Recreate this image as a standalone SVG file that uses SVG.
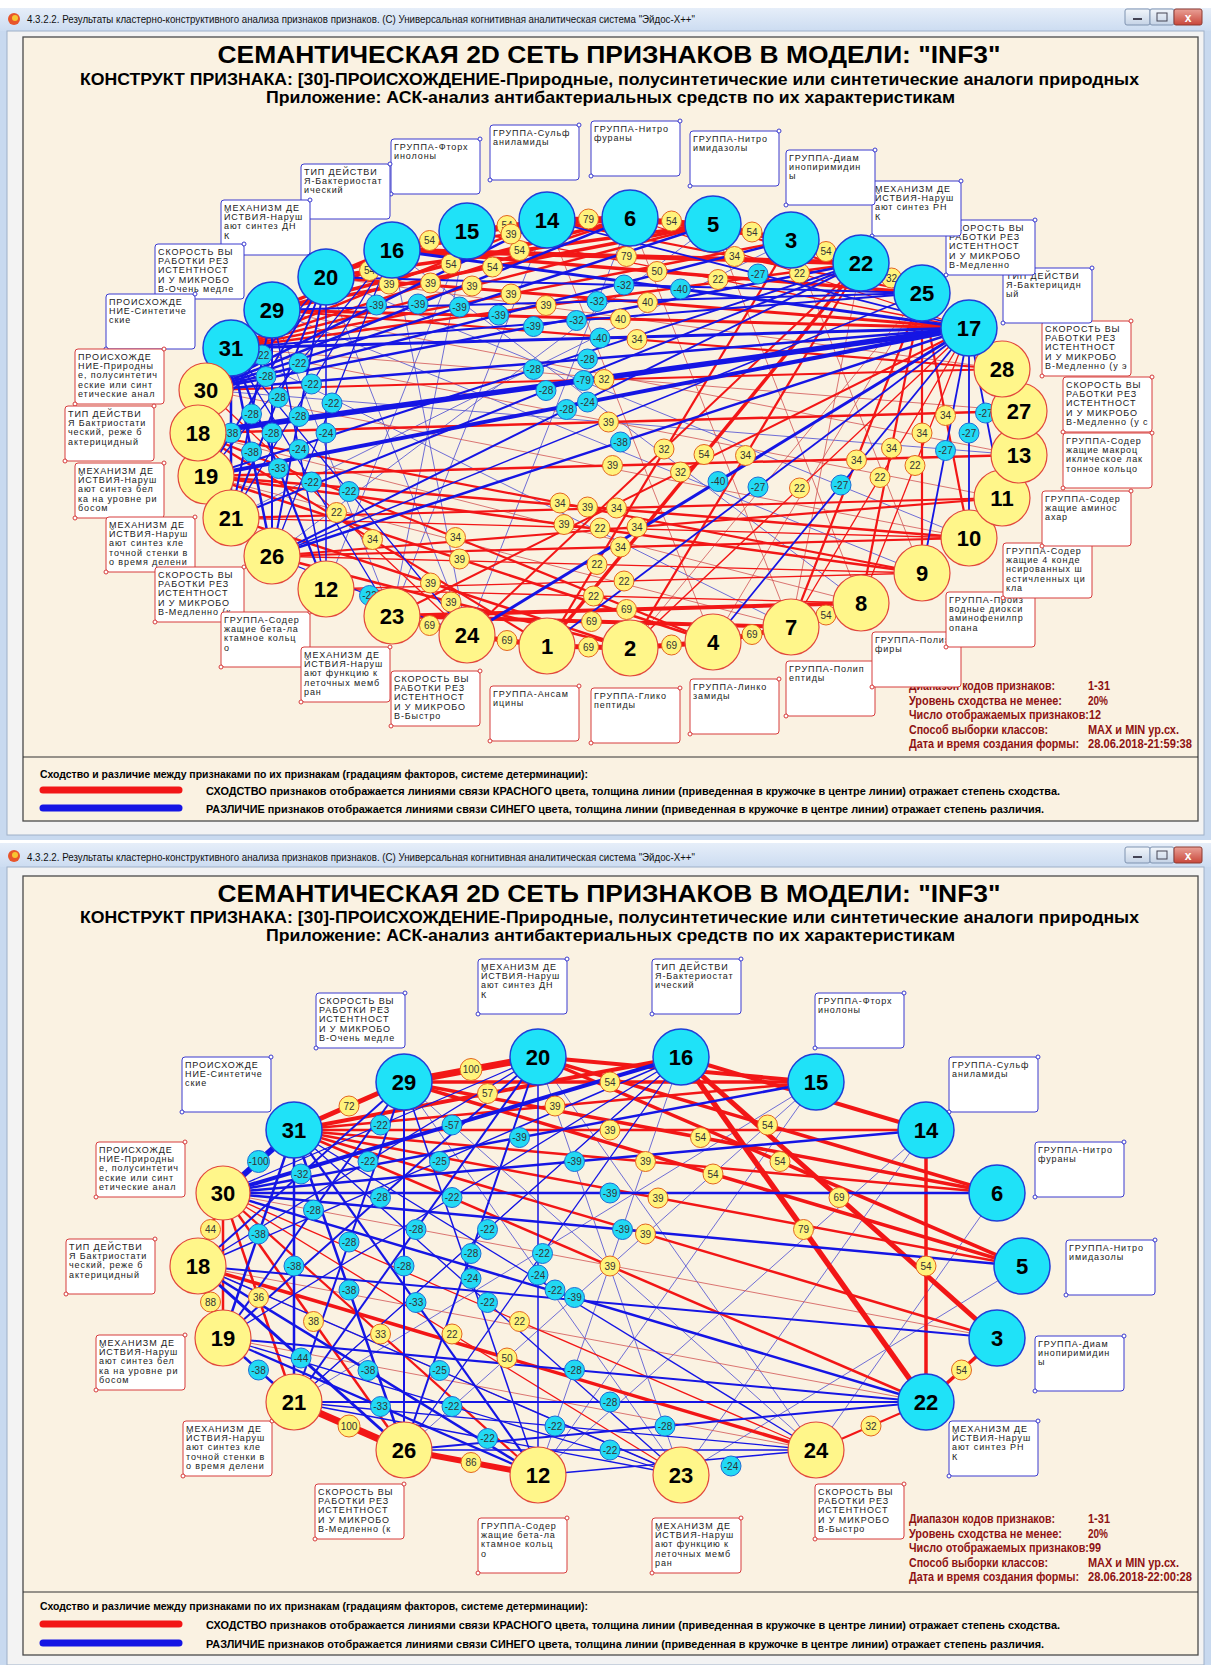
<svg xmlns="http://www.w3.org/2000/svg" width="1211" height="1665" viewBox="0 0 1211 1665">
<defs>
<linearGradient id="tbg" x1="0" y1="0" x2="0" y2="1"><stop offset="0" stop-color="#E6EEF9"/><stop offset="1" stop-color="#CCDCF1"/></linearGradient>
<linearGradient id="cls" x1="0" y1="0" x2="0" y2="1"><stop offset="0" stop-color="#E9A197"/><stop offset="1" stop-color="#C9473A"/></linearGradient>
<linearGradient id="btn" x1="0" y1="0" x2="0" y2="1"><stop offset="0" stop-color="#F2F6FB"/><stop offset="1" stop-color="#C5D3E6"/></linearGradient>
<style>
.win{fill:#C8D9EF}
.cli{fill:#F3F3F3;stroke:#9EB0C8;stroke-width:1}
.pan{fill:#FAF2E2;stroke:#4A4A4A;stroke-width:1.3}
.sep{stroke:#333;stroke-width:1.2}
.wtt{font-family:'Liberation Sans',Arial,sans-serif;font-size:11px;fill:#111}
.h1{font-family:'Liberation Sans',Arial,sans-serif;font-weight:bold;font-size:24px;fill:#000;text-anchor:middle}
.h2{font-family:'Liberation Sans',Arial,sans-serif;font-weight:bold;font-size:17px;fill:#000}
.st{font-family:'Liberation Sans Narrow','Liberation Sans',Arial,sans-serif;font-weight:bold;font-size:12px;fill:#8E1212}
.lg{font-family:'Liberation Sans Narrow','Liberation Sans',Arial,sans-serif;font-weight:bold;font-size:11.5px;fill:#000}
.r{stroke:#F21616;fill:none}
.b{stroke:#1515E4;fill:none}
.rt{stroke:#D25454;stroke-width:0.8}
.bt{stroke:#4B4BD2;stroke-width:0.8}
.by circle{fill:#FFF37C;stroke:#E4651E;stroke-width:1}
.bc circle{fill:#22D9F3;stroke:#1C6ED6;stroke-width:1}
.by text,.bc text{font-family:'Liberation Sans',Arial,sans-serif;font-size:10px;fill:#333;text-anchor:middle}
.nc{fill:#1FE2F8;stroke:#1F3FD8;stroke-width:1.5}
.ny{fill:#FFF68A;stroke:#E2483C;stroke-width:1.2}
.nn{font-family:'Liberation Sans',Arial,sans-serif;font-weight:bold;font-size:22px;fill:#000;text-anchor:middle}
.xb{fill:#fff;stroke:#3B3BCF;stroke-width:1}
.xr{fill:#fff;stroke:#D63C3C;stroke-width:1}
.db{fill:#fff;stroke:#3B3BCF;stroke-width:1}
.dr{fill:#fff;stroke:#D63C3C;stroke-width:1}
.bl{font-family:'Liberation Sans',Arial,sans-serif;font-size:9px;fill:#222;letter-spacing:0.9px}
</style>
</defs>
<rect x="0" y="0" width="1211" height="1665" fill="#FFFFFF"/>

<!-- ================= WINDOW 1 ================= -->
<g id="window1">
<rect class="win" x="0" y="8" width="1211" height="832"/>
<rect x="0" y="8" width="1211" height="23" fill="url(#tbg)"/>
<circle cx="14" cy="19" r="6" fill="#E8552A"/><circle cx="15" cy="18" r="3" fill="#F7C531"/>
<text class="wtt" x="27" y="23" textLength="668" lengthAdjust="spacingAndGlyphs">4.3.2.2. Результаты кластерно-конструктивного анализа признаков признаков.  (C) Универсальная когнитивная аналитическая система "Эйдос-Х++"</text>
<rect x="1125" y="9" width="25" height="16" rx="2" fill="url(#btn)" stroke="#7F93B0"/><rect x="1133" y="18" width="9" height="2" fill="#445"/>
<rect x="1150" y="9" width="24" height="16" rx="2" fill="url(#btn)" stroke="#7F93B0"/><rect x="1157" y="13" width="10" height="8" fill="none" stroke="#445"/>
<rect x="1174" y="9" width="28" height="16" rx="2" fill="url(#cls)" stroke="#8E3A30"/><text x="1188" y="22" font-family="Liberation Sans,Arial,sans-serif" font-weight="bold" font-size="12" fill="#fff" text-anchor="middle">x</text>
<rect class="cli" x="7" y="31" width="1197" height="804"/>
<rect class="pan" x="23" y="37" width="1175" height="784"/>
<line class="sep" x1="23" y1="757" x2="1198" y2="757"/>
<text class="h1" x="609" y="63" textLength="783" lengthAdjust="spacingAndGlyphs">СЕМАНТИЧЕСКАЯ 2D СЕТЬ ПРИЗНАКОВ В МОДЕЛИ: "INF3"</text>
<text class="h2" x="80" y="85" textLength="1059" lengthAdjust="spacingAndGlyphs">КОНСТРУКТ ПРИЗНАКА: [30]-ПРОИСХОЖДЕНИЕ-Природные, полусинтетические или синтетические аналоги природных</text>
<text class="h2" x="266" y="103" textLength="689" lengthAdjust="spacingAndGlyphs">Приложение: АСК-анализ антибактериальных средств по их характеристикам</text>
<g id="a-stats">
<text class="st" x="909" y="690" textLength="146" lengthAdjust="spacingAndGlyphs">Диапазон кодов признаков:</text><text class="st" x="1088" y="690" textLength="22" lengthAdjust="spacingAndGlyphs">1-31</text>
<text class="st" x="909" y="704.5" textLength="153" lengthAdjust="spacingAndGlyphs">Уровень сходства не менее:</text><text class="st" x="1088" y="704.5" textLength="20" lengthAdjust="spacingAndGlyphs">20%</text>
<text class="st" x="909" y="719" textLength="192" lengthAdjust="spacingAndGlyphs">Число отображаемых признаков:12</text>
<text class="st" x="909" y="733.5" textLength="139" lengthAdjust="spacingAndGlyphs">Способ выборки классов:</text><text class="st" x="1088" y="733.5" textLength="91" lengthAdjust="spacingAndGlyphs">MAX и MIN ур.сх.</text>
<text class="st" x="909" y="748" textLength="170" lengthAdjust="spacingAndGlyphs">Дата и время создания формы:</text><text class="st" x="1088" y="748" textLength="104" lengthAdjust="spacingAndGlyphs">28.06.2018-21:59:38</text>
</g>
<g id="a-legend">
<text class="lg" x="40" y="778" textLength="548" lengthAdjust="spacingAndGlyphs">Сходство и различие между признаками по их признакам (градациям факторов, системе детерминации):</text>
<line x1="43" y1="790" x2="179" y2="790" stroke="#F21616" stroke-width="7" stroke-linecap="round"/>
<text class="lg" x="206" y="795" textLength="854" lengthAdjust="spacingAndGlyphs">СХОДСТВО признаков отображается линиями связи КРАСНОГО цвета, толщина линии (приведенная в кружочке в центре линии) отражает степень сходства.</text>
<line x1="43" y1="808" x2="179" y2="808" stroke="#1515E4" stroke-width="7" stroke-linecap="round"/>
<text class="lg" x="206" y="813" textLength="838" lengthAdjust="spacingAndGlyphs">РАЗЛИЧИЕ признаков отображается линиями связи СИНЕГО цвета, толщина линии  (приведенная в кружочке в центре линии) отражает степень различия.</text>
</g>
</g>

<!-- connectors window 1 -->
<g id="a-edges">
<g>
<line class="bt" x1="272" y1="310" x2="922" y2="573"/><line class="bt" x1="326" y1="277" x2="969" y2="538"/><line class="bt" x1="392" y1="250" x2="861" y2="603"/><line class="bt" x1="231" y1="348" x2="791" y2="627"/><line class="bt" x1="467" y1="231" x2="326" y2="589"/><line class="bt" x1="547" y1="220" x2="392" y2="616"/><line class="bt" x1="630" y1="218" x2="467" y2="635"/><line class="bt" x1="713" y1="224" x2="272" y2="556"/><line class="bt" x1="791" y1="240" x2="231" y2="518"/><line class="bt" x1="392" y1="250" x2="467" y2="635"/><line class="bt" x1="467" y1="231" x2="392" y2="616"/><line class="bt" x1="272" y1="310" x2="392" y2="616"/><line class="bt" x1="326" y1="277" x2="467" y2="635"/><line class="bt" x1="206" y1="390" x2="1019" y2="455"/>
<line class="rt" x1="206" y1="390" x2="969" y2="538"/><line class="rt" x1="198" y1="433" x2="861" y2="603"/><line class="rt" x1="206" y1="476" x2="791" y2="627"/><line class="rt" x1="231" y1="348" x2="1002" y2="498"/><line class="rt" x1="272" y1="310" x2="1019" y2="455"/><line class="rt" x1="231" y1="348" x2="1019" y2="411"/><line class="rt" x1="326" y1="277" x2="1002" y2="369"/><line class="rt" x1="791" y1="240" x2="922" y2="573"/><line class="rt" x1="713" y1="224" x2="861" y2="603"/><line class="rt" x1="630" y1="218" x2="791" y2="627"/><line class="rt" x1="547" y1="220" x2="713" y2="642"/><line class="rt" x1="922" y1="293" x2="713" y2="642"/><line class="rt" x1="922" y1="293" x2="630" y2="648"/><line class="rt" x1="861" y1="263" x2="791" y2="627"/>
</g>
<g>
<line class="r" stroke-width="3.5" x1="392" y1="250" x2="467" y2="231"/>
<line class="r" stroke-width="3.5" x1="467" y1="231" x2="547" y2="220"/>
<line class="r" stroke-width="5" x1="547" y1="220" x2="630" y2="218"/>
<line class="r" stroke-width="3.5" x1="630" y1="218" x2="713" y2="224"/>
<line class="r" stroke-width="3.5" x1="713" y1="224" x2="791" y2="240"/>
<line class="r" stroke-width="3.5" x1="791" y1="240" x2="861" y2="263"/>
<line class="r" stroke-width="2" x1="861" y1="263" x2="922" y2="293"/>
<line class="r" stroke-width="3.5" x1="326" y1="277" x2="392" y2="250"/>
<line class="r" stroke-width="3.5" x1="272" y1="310" x2="467" y2="231"/>
<line class="r" stroke-width="3.5" x1="272" y1="310" x2="630" y2="218"/>
<line class="r" stroke-width="3.5" x1="272" y1="310" x2="713" y2="224"/>
<line class="r" stroke-width="3.5" x1="326" y1="277" x2="713" y2="224"/>
<line class="r" stroke-width="2.5" x1="231" y1="348" x2="547" y2="220"/>
<line class="r" stroke-width="2.5" x1="231" y1="348" x2="630" y2="218"/>
<line class="r" stroke-width="2.5" x1="231" y1="348" x2="713" y2="224"/>
<line class="r" stroke-width="2.5" x1="231" y1="348" x2="791" y2="240"/>
<line class="r" stroke-width="2.5" x1="231" y1="348" x2="861" y2="263"/>
<line class="r" stroke-width="5" x1="392" y1="250" x2="861" y2="263"/>
<line class="r" stroke-width="3.5" x1="392" y1="250" x2="922" y2="293"/>
<line class="r" stroke-width="3" x1="326" y1="277" x2="969" y2="328"/>
<line class="r" stroke-width="3" x1="272" y1="310" x2="969" y2="328"/>
<line class="r" stroke-width="1.3" x1="467" y1="231" x2="969" y2="328"/>
<line class="r" stroke-width="2.2" x1="547" y1="220" x2="922" y2="293"/>
<line class="r" stroke-width="1.3" x1="630" y1="218" x2="969" y2="328"/>
<line class="r" stroke-width="2.2" x1="713" y1="224" x2="922" y2="293"/>
<line class="r" stroke-width="3.5" x1="392" y1="250" x2="547" y2="220"/>
<line class="r" stroke-width="3.5" x1="467" y1="231" x2="630" y2="218"/>
<line class="r" stroke-width="3.5" x1="547" y1="220" x2="713" y2="224"/>
<line class="r" stroke-width="3.5" x1="630" y1="218" x2="791" y2="240"/>
<line class="r" stroke-width="2.2" x1="713" y1="224" x2="861" y2="263"/>
<line class="r" stroke-width="1.3" x1="791" y1="240" x2="922" y2="293"/>
<line class="r" stroke-width="2.5" x1="326" y1="277" x2="467" y2="231"/>
<line class="r" stroke-width="2.5" x1="392" y1="250" x2="630" y2="218"/>
<line class="r" stroke-width="2.2" x1="198" y1="433" x2="547" y2="646"/>
<line class="r" stroke-width="1.3" x1="206" y1="390" x2="467" y2="635"/>
<line class="r" stroke-width="2.2" x1="198" y1="433" x2="713" y2="642"/>
<line class="r" stroke-width="2.5" x1="206" y1="476" x2="713" y2="642"/>
<line class="r" stroke-width="2.5" x1="231" y1="518" x2="630" y2="648"/>
<line class="r" stroke-width="2.5" x1="272" y1="556" x2="630" y2="648"/>
<line class="r" stroke-width="2.2" x1="198" y1="433" x2="922" y2="573"/>
<line class="r" stroke-width="2.5" x1="206" y1="476" x2="969" y2="538"/>
<line class="r" stroke-width="2.5" x1="206" y1="476" x2="922" y2="573"/>
<line class="r" stroke-width="5" x1="467" y1="635" x2="547" y2="646"/>
<line class="r" stroke-width="4" x1="392" y1="616" x2="791" y2="627"/>
<line class="r" stroke-width="5" x1="547" y1="646" x2="630" y2="648"/>
<line class="r" stroke-width="4" x1="392" y1="616" x2="861" y2="603"/>
<line class="r" stroke-width="5" x1="630" y1="648" x2="713" y2="642"/>
<line class="r" stroke-width="5" x1="713" y1="642" x2="791" y2="627"/>
<line class="r" stroke-width="3.5" x1="791" y1="627" x2="861" y2="603"/>
<line class="r" stroke-width="5" x1="392" y1="616" x2="467" y2="635"/>
<line class="r" stroke-width="2.2" x1="922" y1="293" x2="969" y2="538"/>
<line class="r" stroke-width="2.2" x1="922" y1="293" x2="922" y2="573"/>
<line class="r" stroke-width="2.2" x1="922" y1="293" x2="861" y2="603"/>
<line class="r" stroke-width="1.3" x1="969" y1="328" x2="861" y2="603"/>
<line class="r" stroke-width="2.2" x1="922" y1="293" x2="791" y2="627"/>
<line class="r" stroke-width="1.3" x1="969" y1="328" x2="791" y2="627"/>
<line class="r" stroke-width="1.3" x1="969" y1="328" x2="630" y2="648"/>
<line class="r" stroke-width="3.5" x1="861" y1="263" x2="547" y2="646"/>
<line class="r" stroke-width="2" x1="969" y1="328" x2="392" y2="616"/>
<line class="r" stroke-width="2" x1="861" y1="263" x2="467" y2="635"/>
<line class="r" stroke-width="2" x1="206" y1="390" x2="1002" y2="369"/>
<line class="r" stroke-width="2.5" x1="198" y1="433" x2="1019" y2="411"/>
<line class="r" stroke-width="2.5" x1="206" y1="476" x2="1019" y2="455"/>
<line class="r" stroke-width="2.2" x1="231" y1="518" x2="1002" y2="498"/>
<line class="r" stroke-width="2.2" x1="272" y1="556" x2="969" y2="538"/>
<line class="r" stroke-width="1.3" x1="326" y1="589" x2="922" y2="573"/>
<line class="r" stroke-width="2.2" x1="969" y1="328" x2="1002" y2="369"/>
<line class="r" stroke-width="2.2" x1="969" y1="328" x2="1019" y2="411"/>
<line class="r" stroke-width="2.2" x1="969" y1="328" x2="1019" y2="455"/>
<line class="r" stroke-width="2.2" x1="861" y1="263" x2="630" y2="648"/>
<line class="r" stroke-width="2.2" x1="791" y1="240" x2="547" y2="646"/>
<line class="r" stroke-width="2.2" x1="272" y1="310" x2="1002" y2="369"/>
<line class="r" stroke-width="1.3" x1="231" y1="518" x2="969" y2="538"/>
<line class="r" stroke-width="1.3" x1="272" y1="556" x2="922" y2="573"/>
<line class="r" stroke-width="1.3" x1="326" y1="589" x2="861" y2="603"/>
<line class="r" stroke-width="2.2" x1="272" y1="556" x2="1002" y2="498"/>
</g>
<g>
<line class="b" stroke-width="2.5" x1="206" y1="390" x2="547" y2="220"/>
<line class="b" stroke-width="2.5" x1="206" y1="390" x2="630" y2="218"/>
<line class="b" stroke-width="2.5" x1="206" y1="390" x2="713" y2="224"/>
<line class="b" stroke-width="2.5" x1="206" y1="390" x2="791" y2="240"/>
<line class="b" stroke-width="2.5" x1="206" y1="390" x2="861" y2="263"/>
<line class="b" stroke-width="2" x1="326" y1="277" x2="922" y2="293"/>
<line class="b" stroke-width="3" x1="392" y1="250" x2="969" y2="328"/>
<line class="b" stroke-width="1.8" x1="547" y1="220" x2="969" y2="328"/>
<line class="b" stroke-width="2" x1="206" y1="476" x2="861" y2="263"/>
<line class="b" stroke-width="2" x1="231" y1="518" x2="861" y2="263"/>
<line class="b" stroke-width="5.5" x1="198" y1="433" x2="969" y2="328"/>
<line class="b" stroke-width="2" x1="272" y1="556" x2="861" y2="263"/>
<line class="b" stroke-width="1.5" x1="272" y1="556" x2="922" y2="293"/>
<line class="b" stroke-width="1.3" x1="326" y1="277" x2="198" y2="433"/>
<line class="b" stroke-width="1.3" x1="392" y1="250" x2="206" y2="476"/>
<line class="b" stroke-width="1.3" x1="392" y1="250" x2="231" y2="518"/>
<line class="b" stroke-width="1.3" x1="392" y1="250" x2="272" y2="556"/>
<line class="b" stroke-width="1.5" x1="326" y1="277" x2="326" y2="589"/>
<line class="b" stroke-width="2" x1="326" y1="277" x2="206" y2="476"/>
<line class="b" stroke-width="2" x1="326" y1="277" x2="231" y2="518"/>
<line class="b" stroke-width="2" x1="272" y1="310" x2="231" y2="518"/>
<line class="b" stroke-width="2" x1="326" y1="277" x2="272" y2="556"/>
<line class="b" stroke-width="2" x1="272" y1="310" x2="272" y2="556"/>
<line class="b" stroke-width="2.5" x1="231" y1="348" x2="231" y2="518"/>
<line class="b" stroke-width="2.5" x1="231" y1="348" x2="272" y2="556"/>
<line class="b" stroke-width="1.5" x1="272" y1="310" x2="326" y2="589"/>
<line class="b" stroke-width="2.2" x1="231" y1="348" x2="326" y2="589"/>
<line class="b" stroke-width="1.3" x1="231" y1="348" x2="392" y2="616"/>
<line class="b" stroke-width="1.3" x1="231" y1="348" x2="467" y2="635"/>
<line class="b" stroke-width="1.3" x1="272" y1="556" x2="467" y2="635"/>
<line class="b" stroke-width="1.8" x1="969" y1="328" x2="1002" y2="498"/>
<line class="b" stroke-width="1.8" x1="969" y1="328" x2="969" y2="538"/>
<line class="b" stroke-width="1.8" x1="969" y1="328" x2="922" y2="573"/>
<line class="b" stroke-width="1.8" x1="969" y1="328" x2="713" y2="642"/>
<line class="b" stroke-width="1.8" x1="969" y1="328" x2="547" y2="646"/>
<line class="b" stroke-width="3" x1="969" y1="328" x2="467" y2="635"/>
<line class="b" stroke-width="2.5" x1="969" y1="328" x2="272" y2="556"/>
<line class="b" stroke-width="3" x1="231" y1="348" x2="969" y2="328"/>
<line class="b" stroke-width="2" x1="272" y1="310" x2="922" y2="293"/>
<line class="b" stroke-width="4" x1="206" y1="476" x2="969" y2="328"/>
<line class="b" stroke-width="2" x1="231" y1="348" x2="922" y2="293"/>
<line class="b" stroke-width="2.5" x1="206" y1="390" x2="969" y2="328"/>
</g>
<g>
<g class="by" transform="translate(429.5 240.5)"><circle r="10"/><text y="3.5">54</text></g>
<g class="by" transform="translate(507 225.5)"><circle r="10"/><text y="3.5">54</text></g>
<g class="by" transform="translate(588.5 219)"><circle r="10"/><text y="3.5">79</text></g>
<g class="by" transform="translate(671.5 221)"><circle r="10"/><text y="3.5">54</text></g>
<g class="by" transform="translate(752 232)"><circle r="10"/><text y="3.5">54</text></g>
<g class="by" transform="translate(826 251.5)"><circle r="10"/><text y="3.5">54</text></g>
<g class="by" transform="translate(891.5 278)"><circle r="10"/><text y="3.5">32</text></g>
<g class="by" transform="translate(369.5 270.5)"><circle r="10"/><text y="3.5">54</text></g>
<g class="by" transform="translate(451 264)"><circle r="10"/><text y="3.5">54</text></g>
<g class="by" transform="translate(492.5 267)"><circle r="10"/><text y="3.5">54</text></g>
<g class="by" transform="translate(519.5 250.5)"><circle r="10"/><text y="3.5">54</text></g>
<g class="by" transform="translate(511 234)"><circle r="10"/><text y="3.5">39</text></g>
<g class="by" transform="translate(389 284)"><circle r="10"/><text y="3.5">39</text></g>
<g class="by" transform="translate(430.5 283)"><circle r="10"/><text y="3.5">39</text></g>
<g class="by" transform="translate(472 286)"><circle r="10"/><text y="3.5">39</text></g>
<g class="by" transform="translate(511 294)"><circle r="10"/><text y="3.5">39</text></g>
<g class="by" transform="translate(546 305.5)"><circle r="10"/><text y="3.5">39</text></g>
<g class="by" transform="translate(626.5 256.5)"><circle r="10"/><text y="3.5">79</text></g>
<g class="by" transform="translate(657 271.5)"><circle r="10"/><text y="3.5">50</text></g>
<g class="by" transform="translate(647.5 302.5)"><circle r="10"/><text y="3.5">40</text></g>
<g class="by" transform="translate(620.5 319)"><circle r="10"/><text y="3.5">40</text></g>
<g class="by" transform="translate(718 279.5)"><circle r="10"/><text y="3.5">22</text></g>
<g class="by" transform="translate(734.5 256.5)"><circle r="10"/><text y="3.5">34</text></g>
<g class="by" transform="translate(799.5 273)"><circle r="10"/><text y="3.5">22</text></g>
<g class="by" transform="translate(637 339.5)"><circle r="10"/><text y="3.5">34</text></g>
<g class="by" transform="translate(604 379.5)"><circle r="10"/><text y="3.5">32</text></g>
<g class="by" transform="translate(608.5 422)"><circle r="10"/><text y="3.5">39</text></g>
<g class="by" transform="translate(612.5 465.5)"><circle r="10"/><text y="3.5">39</text></g>
<g class="by" transform="translate(616.5 508)"><circle r="10"/><text y="3.5">34</text></g>
<g class="by" transform="translate(620.5 547)"><circle r="10"/><text y="3.5">34</text></g>
<g class="by" transform="translate(624 581)"><circle r="10"/><text y="3.5">22</text></g>
<g class="by" transform="translate(372.5 539.5)"><circle r="10"/><text y="3.5">34</text></g>
<g class="by" transform="translate(336.5 512.5)"><circle r="10"/><text y="3.5">22</text></g>
<g class="by" transform="translate(455.5 537.5)"><circle r="10"/><text y="3.5">34</text></g>
<g class="by" transform="translate(459.5 559)"><circle r="10"/><text y="3.5">39</text></g>
<g class="by" transform="translate(430.5 583)"><circle r="10"/><text y="3.5">39</text></g>
<g class="by" transform="translate(451 602)"><circle r="10"/><text y="3.5">39</text></g>
<g class="by" transform="translate(560 503)"><circle r="10"/><text y="3.5">34</text></g>
<g class="by" transform="translate(587.5 507)"><circle r="10"/><text y="3.5">39</text></g>
<g class="by" transform="translate(564 524.5)"><circle r="10"/><text y="3.5">39</text></g>
<g class="by" transform="translate(600 528)"><circle r="10"/><text y="3.5">22</text></g>
<g class="by" transform="translate(597 564.5)"><circle r="10"/><text y="3.5">22</text></g>
<g class="by" transform="translate(593.5 596)"><circle r="10"/><text y="3.5">22</text></g>
<g class="by" transform="translate(637 527)"><circle r="10"/><text y="3.5">34</text></g>
<g class="by" transform="translate(507 640.5)"><circle r="10"/><text y="3.5">69</text></g>
<g class="by" transform="translate(591.5 621.5)"><circle r="10"/><text y="3.5">69</text></g>
<g class="by" transform="translate(588.5 647)"><circle r="10"/><text y="3.5">69</text></g>
<g class="by" transform="translate(626.5 609.5)"><circle r="10"/><text y="3.5">69</text></g>
<g class="by" transform="translate(671.5 645)"><circle r="10"/><text y="3.5">69</text></g>
<g class="by" transform="translate(752 634.5)"><circle r="10"/><text y="3.5">69</text></g>
<g class="by" transform="translate(826 615)"><circle r="10"/><text y="3.5">54</text></g>
<g class="by" transform="translate(429.5 625.5)"><circle r="10"/><text y="3.5">69</text></g>
<g class="by" transform="translate(945.5 415.5)"><circle r="10"/><text y="3.5">34</text></g>
<g class="by" transform="translate(922 433)"><circle r="10"/><text y="3.5">34</text></g>
<g class="by" transform="translate(891.5 448)"><circle r="10"/><text y="3.5">34</text></g>
<g class="by" transform="translate(915 465.5)"><circle r="10"/><text y="3.5">22</text></g>
<g class="by" transform="translate(856.5 460)"><circle r="10"/><text y="3.5">34</text></g>
<g class="by" transform="translate(880 477.5)"><circle r="10"/><text y="3.5">22</text></g>
<g class="by" transform="translate(799.5 488)"><circle r="10"/><text y="3.5">22</text></g>
<g class="by" transform="translate(704 454.5)"><circle r="10"/><text y="3.5">54</text></g>
<g class="by" transform="translate(680.5 472)"><circle r="10"/><text y="3.5">32</text></g>
<g class="by" transform="translate(664 449)"><circle r="10"/><text y="3.5">32</text></g>
<g class="by" transform="translate(745.5 455.5)"><circle r="10"/><text y="3.5">34</text></g>
<g class="bc" transform="translate(376.5 305)"><circle r="10"/><text y="3.5">-39</text></g>
<g class="bc" transform="translate(418 304)"><circle r="10"/><text y="3.5">-39</text></g>
<g class="bc" transform="translate(459.5 307)"><circle r="10"/><text y="3.5">-39</text></g>
<g class="bc" transform="translate(498.5 315)"><circle r="10"/><text y="3.5">-39</text></g>
<g class="bc" transform="translate(533.5 326.5)"><circle r="10"/><text y="3.5">-39</text></g>
<g class="bc" transform="translate(624 285)"><circle r="10"/><text y="3.5">-32</text></g>
<g class="bc" transform="translate(680.5 289)"><circle r="10"/><text y="3.5">-40</text></g>
<g class="bc" transform="translate(758 274)"><circle r="10"/><text y="3.5">-27</text></g>
<g class="bc" transform="translate(597 301.5)"><circle r="10"/><text y="3.5">-32</text></g>
<g class="bc" transform="translate(576.5 320.5)"><circle r="10"/><text y="3.5">-32</text></g>
<g class="bc" transform="translate(600 338)"><circle r="10"/><text y="3.5">-40</text></g>
<g class="bc" transform="translate(587.5 359)"><circle r="10"/><text y="3.5">-28</text></g>
<g class="bc" transform="translate(533.5 369.5)"><circle r="10"/><text y="3.5">-28</text></g>
<g class="bc" transform="translate(546 390.5)"><circle r="10"/><text y="3.5">-28</text></g>
<g class="bc" transform="translate(583.5 380.5)"><circle r="10"/><text y="3.5">-79</text></g>
<g class="bc" transform="translate(566.5 409.5)"><circle r="10"/><text y="3.5">-28</text></g>
<g class="bc" transform="translate(587.5 402)"><circle r="10"/><text y="3.5">-24</text></g>
<g class="bc" transform="translate(620.5 442)"><circle r="10"/><text y="3.5">-38</text></g>
<g class="bc" transform="translate(262 355)"><circle r="10"/><text y="3.5">-22</text></g>
<g class="bc" transform="translate(299 363)"><circle r="10"/><text y="3.5">-22</text></g>
<g class="bc" transform="translate(311.5 384)"><circle r="10"/><text y="3.5">-22</text></g>
<g class="bc" transform="translate(332 403)"><circle r="10"/><text y="3.5">-22</text></g>
<g class="bc" transform="translate(326 433)"><circle r="10"/><text y="3.5">-24</text></g>
<g class="bc" transform="translate(266 376.5)"><circle r="10"/><text y="3.5">-28</text></g>
<g class="bc" transform="translate(278.5 397.5)"><circle r="10"/><text y="3.5">-28</text></g>
<g class="bc" transform="translate(251.5 414)"><circle r="10"/><text y="3.5">-28</text></g>
<g class="bc" transform="translate(299 416.5)"><circle r="10"/><text y="3.5">-28</text></g>
<g class="bc" transform="translate(272 433)"><circle r="10"/><text y="3.5">-28</text></g>
<g class="bc" transform="translate(231 433)"><circle r="10"/><text y="3.5">-38</text></g>
<g class="bc" transform="translate(251.5 452)"><circle r="10"/><text y="3.5">-38</text></g>
<g class="bc" transform="translate(299 449.5)"><circle r="10"/><text y="3.5">-24</text></g>
<g class="bc" transform="translate(278.5 468.5)"><circle r="10"/><text y="3.5">-33</text></g>
<g class="bc" transform="translate(311.5 482)"><circle r="10"/><text y="3.5">-22</text></g>
<g class="bc" transform="translate(349 491.5)"><circle r="10"/><text y="3.5">-22</text></g>
<g class="bc" transform="translate(369.5 595.5)"><circle r="10"/><text y="3.5">-22</text></g>
<g class="bc" transform="translate(985.5 413)"><circle r="10"/><text y="3.5">-27</text></g>
<g class="bc" transform="translate(969 433)"><circle r="10"/><text y="3.5">-27</text></g>
<g class="bc" transform="translate(945.5 450.5)"><circle r="10"/><text y="3.5">-27</text></g>
<g class="bc" transform="translate(841 485)"><circle r="10"/><text y="3.5">-27</text></g>
<g class="bc" transform="translate(758 487)"><circle r="10"/><text y="3.5">-27</text></g>
<g class="bc" transform="translate(718 481.5)"><circle r="10"/><text y="3.5">-40</text></g>
</g>
</g>

<!-- nodes window 1 -->
<g id="a-nodes">
<g id="a-n19"><rect class="xr" x="75" y="463" width="89" height="55" rx="3"/><circle class="dr" cx="164" cy="463" r="2"/><circle class="dr" cx="75" cy="518" r="2"/><text class="bl" x="78" y="473.5">МЕХАНИЗМ ДЕ<tspan x="78" dy="9.4">ЙСТВИЯ-Наруш</tspan><tspan x="78" dy="9.4">ают синтез бел</tspan><tspan x="78" dy="9.4">ка на уровне ри</tspan><tspan x="78" dy="9.4">босом</tspan></text><circle class="ny" cx="206" cy="476" r="28"/><text class="nn" x="206" y="484">19</text></g>
<g id="a-n21"><rect class="xr" x="106" y="517" width="89" height="55" rx="3"/><circle class="dr" cx="195" cy="517" r="2"/><circle class="dr" cx="106" cy="572" r="2"/><text class="bl" x="109" y="527.5">МЕХАНИЗМ ДЕ<tspan x="109" dy="9.4">ЙСТВИЯ-Наруш</tspan><tspan x="109" dy="9.4">ают синтез кле</tspan><tspan x="109" dy="9.4">точной стенки в</tspan><tspan x="109" dy="9.4">о время делени</tspan></text><circle class="ny" cx="231" cy="518" r="28"/><text class="nn" x="231" y="526">21</text></g>
<g id="a-n26"><rect class="xr" x="155" y="567" width="89" height="55" rx="3"/><circle class="dr" cx="244" cy="567" r="2"/><circle class="dr" cx="155" cy="622" r="2"/><text class="bl" x="158" y="577.5">СКОРОСТЬ ВЫ<tspan x="158" dy="9.4">РАБОТКИ РЕЗ</tspan><tspan x="158" dy="9.4">ИСТЕНТНОСТ</tspan><tspan x="158" dy="9.4">И У МИКРОБО</tspan><tspan x="158" dy="9.4">В-Медленно (к</tspan></text><circle class="ny" cx="272" cy="556" r="28"/><text class="nn" x="272" y="564">26</text></g>
<g id="a-n12"><rect class="xr" x="221" y="612" width="89" height="55" rx="3"/><circle class="dr" cx="310" cy="612" r="2"/><circle class="dr" cx="221" cy="667" r="2"/><text class="bl" x="224" y="622.5">ГРУППА-Содер<tspan x="224" dy="9.4">жащие бета-ла</tspan><tspan x="224" dy="9.4">ктамное кольц</tspan><tspan x="224" dy="9.4">о</tspan></text><circle class="ny" cx="326" cy="589" r="28"/><text class="nn" x="326" y="597">12</text></g>
<g id="a-n23"><rect class="xr" x="301" y="647" width="89" height="55" rx="3"/><circle class="dr" cx="390" cy="647" r="2"/><circle class="dr" cx="301" cy="702" r="2"/><text class="bl" x="304" y="657.5">МЕХАНИЗМ ДЕ<tspan x="304" dy="9.4">ЙСТВИЯ-Наруш</tspan><tspan x="304" dy="9.4">ают функцию к</tspan><tspan x="304" dy="9.4">леточных мемб</tspan><tspan x="304" dy="9.4">ран</tspan></text><circle class="ny" cx="392" cy="616" r="28"/><text class="nn" x="392" y="624">23</text></g>
<g id="a-n24"><rect class="xr" x="391" y="671" width="89" height="55" rx="3"/><circle class="dr" cx="480" cy="671" r="2"/><circle class="dr" cx="391" cy="726" r="2"/><text class="bl" x="394" y="681.5">СКОРОСТЬ ВЫ<tspan x="394" dy="9.4">РАБОТКИ РЕЗ</tspan><tspan x="394" dy="9.4">ИСТЕНТНОСТ</tspan><tspan x="394" dy="9.4">И У МИКРОБО</tspan><tspan x="394" dy="9.4">В-Быстро</tspan></text><circle class="ny" cx="467" cy="635" r="28"/><text class="nn" x="467" y="643">24</text></g>
<g id="a-n1"><rect class="xr" x="490" y="686" width="89" height="55" rx="3"/><circle class="dr" cx="579" cy="686" r="2"/><circle class="dr" cx="490" cy="741" r="2"/><text class="bl" x="493" y="696.5">ГРУППА-Ансам<tspan x="493" dy="9.4">ицины</tspan></text><circle class="ny" cx="547" cy="646" r="28"/><text class="nn" x="547" y="654">1</text></g>
<g id="a-n2"><rect class="xr" x="591" y="688" width="89" height="55" rx="3"/><circle class="dr" cx="680" cy="688" r="2"/><circle class="dr" cx="591" cy="743" r="2"/><text class="bl" x="594" y="698.5">ГРУППА-Глико<tspan x="594" dy="9.4">пептиды</tspan></text><circle class="ny" cx="630" cy="648" r="28"/><text class="nn" x="630" y="656">2</text></g>
<g id="a-n4"><rect class="xr" x="690" y="679" width="89" height="55" rx="3"/><circle class="dr" cx="779" cy="679" r="2"/><circle class="dr" cx="690" cy="734" r="2"/><text class="bl" x="693" y="689.5">ГРУППА-Линко<tspan x="693" dy="9.4">замиды</tspan></text><circle class="ny" cx="713" cy="642" r="28"/><text class="nn" x="713" y="650">4</text></g>
<g id="a-n7"><rect class="xr" x="786" y="661" width="89" height="55" rx="3"/><circle class="dr" cx="875" cy="661" r="2"/><circle class="dr" cx="786" cy="716" r="2"/><text class="bl" x="789" y="671.5">ГРУППА-Полип<tspan x="789" dy="9.4">ептиды</tspan></text><circle class="ny" cx="791" cy="627" r="28"/><text class="nn" x="791" y="635">7</text></g>
<g id="a-n8"><rect class="xr" x="872" y="632" width="89" height="55" rx="3"/><circle class="dr" cx="961" cy="632" r="2"/><circle class="dr" cx="872" cy="687" r="2"/><text class="bl" x="875" y="642.5">ГРУППА-Полиэ<tspan x="875" dy="9.4">фиры</tspan></text><circle class="ny" cx="861" cy="603" r="28"/><text class="nn" x="861" y="611">8</text></g>
<g id="a-n9"><rect class="xr" x="946" y="592" width="89" height="55" rx="3"/><circle class="dr" cx="1035" cy="592" r="2"/><circle class="dr" cx="946" cy="647" r="2"/><text class="bl" x="949" y="602.5">ГРУППА-Произ<tspan x="949" dy="9.4">водные диокси</tspan><tspan x="949" dy="9.4">аминофенилпр</tspan><tspan x="949" dy="9.4">опана</tspan></text><circle class="ny" cx="922" cy="573" r="28"/><text class="nn" x="922" y="581">9</text></g>
<g id="a-n10"><rect class="xr" x="1003" y="543" width="89" height="55" rx="3"/><circle class="dr" cx="1092" cy="543" r="2"/><circle class="dr" cx="1003" cy="598" r="2"/><text class="bl" x="1006" y="553.5">ГРУППА-Содер<tspan x="1006" dy="9.4">жащие 4 конде</tspan><tspan x="1006" dy="9.4">нсированных ш</tspan><tspan x="1006" dy="9.4">естичленных ци</tspan><tspan x="1006" dy="9.4">кла</tspan></text><circle class="ny" cx="969" cy="538" r="28"/><text class="nn" x="969" y="546">10</text></g>
<g id="a-n11"><rect class="xr" x="1042" y="491" width="89" height="55" rx="3"/><circle class="dr" cx="1131" cy="491" r="2"/><circle class="dr" cx="1042" cy="546" r="2"/><text class="bl" x="1045" y="501.5">ГРУППА-Содер<tspan x="1045" dy="9.4">жащие аминос</tspan><tspan x="1045" dy="9.4">ахар</tspan></text><circle class="ny" cx="1002" cy="498" r="28"/><text class="nn" x="1002" y="506">11</text></g>
<g id="a-n13"><rect class="xr" x="1063" y="433" width="89" height="55" rx="3"/><circle class="dr" cx="1152" cy="433" r="2"/><circle class="dr" cx="1063" cy="488" r="2"/><text class="bl" x="1066" y="443.5">ГРУППА-Содер<tspan x="1066" dy="9.4">жащие макроц</tspan><tspan x="1066" dy="9.4">иклическое лак</tspan><tspan x="1066" dy="9.4">тонное кольцо</tspan></text><circle class="ny" cx="1019" cy="455" r="28"/><text class="nn" x="1019" y="463">13</text></g>
<g id="a-n27"><rect class="xr" x="1063" y="377" width="89" height="55" rx="3"/><circle class="dr" cx="1152" cy="377" r="2"/><circle class="dr" cx="1063" cy="432" r="2"/><text class="bl" x="1066" y="387.5">СКОРОСТЬ ВЫ<tspan x="1066" dy="9.4">РАБОТКИ РЕЗ</tspan><tspan x="1066" dy="9.4">ИСТЕНТНОСТ</tspan><tspan x="1066" dy="9.4">И У МИКРОБО</tspan><tspan x="1066" dy="9.4">В-Медленно (у с</tspan></text><circle class="ny" cx="1019" cy="411" r="28"/><text class="nn" x="1019" y="419">27</text></g>
<g id="a-n28"><rect class="xr" x="1042" y="321" width="89" height="55" rx="3"/><circle class="dr" cx="1131" cy="321" r="2"/><circle class="dr" cx="1042" cy="376" r="2"/><text class="bl" x="1045" y="331.5">СКОРОСТЬ ВЫ<tspan x="1045" dy="9.4">РАБОТКИ РЕЗ</tspan><tspan x="1045" dy="9.4">ИСТЕНТНОСТ</tspan><tspan x="1045" dy="9.4">И У МИКРОБО</tspan><tspan x="1045" dy="9.4">В-Медленно (у э</tspan></text><circle class="ny" cx="1002" cy="369" r="28"/><text class="nn" x="1002" y="377">28</text></g>
<g id="a-n17"><rect class="xb" x="1003" y="268" width="89" height="55" rx="3"/><circle class="db" cx="1092" cy="268" r="2"/><circle class="db" cx="1003" cy="323" r="2"/><text class="bl" x="1006" y="278.5">ТИП ДЕЙСТВИ<tspan x="1006" dy="9.4">Я-Бактерицидн</tspan><tspan x="1006" dy="9.4">ый</tspan></text><circle class="nc" cx="969" cy="328" r="28"/><text class="nn" x="969" y="336">17</text></g>
<g id="a-n25"><rect class="xb" x="946" y="220" width="89" height="55" rx="3"/><circle class="db" cx="1035" cy="220" r="2"/><circle class="db" cx="946" cy="275" r="2"/><text class="bl" x="949" y="230.5">СКОРОСТЬ ВЫ<tspan x="949" dy="9.4">РАБОТКИ РЕЗ</tspan><tspan x="949" dy="9.4">ИСТЕНТНОСТ</tspan><tspan x="949" dy="9.4">И У МИКРОБО</tspan><tspan x="949" dy="9.4">В-Медленно</tspan></text><circle class="nc" cx="922" cy="293" r="28"/><text class="nn" x="922" y="301">25</text></g>
<g id="a-n22"><rect class="xb" x="872" y="181" width="89" height="55" rx="3"/><circle class="db" cx="961" cy="181" r="2"/><circle class="db" cx="872" cy="236" r="2"/><text class="bl" x="875" y="191.5">МЕХАНИЗМ ДЕ<tspan x="875" dy="9.4">ЙСТВИЯ-Наруш</tspan><tspan x="875" dy="9.4">ают синтез РН</tspan><tspan x="875" dy="9.4">К</tspan></text><circle class="nc" cx="861" cy="263" r="28"/><text class="nn" x="861" y="271">22</text></g>
<g id="a-n3"><rect class="xb" x="786" y="150" width="89" height="55" rx="3"/><circle class="db" cx="875" cy="150" r="2"/><circle class="db" cx="786" cy="205" r="2"/><text class="bl" x="789" y="160.5">ГРУППА-Диам<tspan x="789" dy="9.4">инопиримидин</tspan><tspan x="789" dy="9.4">ы</tspan></text><circle class="nc" cx="791" cy="240" r="28"/><text class="nn" x="791" y="248">3</text></g>
<g id="a-n5"><rect class="xb" x="690" y="131" width="89" height="55" rx="3"/><circle class="db" cx="779" cy="131" r="2"/><circle class="db" cx="690" cy="186" r="2"/><text class="bl" x="693" y="141.5">ГРУППА-Нитро<tspan x="693" dy="9.4">имидазолы</tspan></text><circle class="nc" cx="713" cy="224" r="28"/><text class="nn" x="713" y="232">5</text></g>
<g id="a-n6"><rect class="xb" x="591" y="121" width="89" height="55" rx="3"/><circle class="db" cx="680" cy="121" r="2"/><circle class="db" cx="591" cy="176" r="2"/><text class="bl" x="594" y="131.5">ГРУППА-Нитро<tspan x="594" dy="9.4">фураны</tspan></text><circle class="nc" cx="630" cy="218" r="28"/><text class="nn" x="630" y="226">6</text></g>
<g id="a-n14"><rect class="xb" x="490" y="125" width="89" height="55" rx="3"/><circle class="db" cx="579" cy="125" r="2"/><circle class="db" cx="490" cy="180" r="2"/><text class="bl" x="493" y="135.5">ГРУППА-Сульф<tspan x="493" dy="9.4">аниламиды</tspan></text><circle class="nc" cx="547" cy="220" r="28"/><text class="nn" x="547" y="228">14</text></g>
<g id="a-n15"><rect class="xb" x="391" y="139" width="89" height="55" rx="3"/><circle class="db" cx="480" cy="139" r="2"/><circle class="db" cx="391" cy="194" r="2"/><text class="bl" x="394" y="149.5">ГРУППА-Фторх<tspan x="394" dy="9.4">инолоны</tspan></text><circle class="nc" cx="467" cy="231" r="28"/><text class="nn" x="467" y="239">15</text></g>
<g id="a-n16"><rect class="xb" x="301" y="164" width="89" height="55" rx="3"/><circle class="db" cx="390" cy="164" r="2"/><circle class="db" cx="301" cy="219" r="2"/><text class="bl" x="304" y="174.5">ТИП ДЕЙСТВИ<tspan x="304" dy="9.4">Я-Бактериостат</tspan><tspan x="304" dy="9.4">ический</tspan></text><circle class="nc" cx="392" cy="250" r="28" stroke-width="2.5"/><text class="nn" x="392" y="258">16</text></g>
<g id="a-n20"><rect class="xb" x="221" y="200" width="89" height="55" rx="3"/><circle class="db" cx="310" cy="200" r="2"/><circle class="db" cx="221" cy="255" r="2"/><text class="bl" x="224" y="210.5">МЕХАНИЗМ ДЕ<tspan x="224" dy="9.4">ЙСТВИЯ-Наруш</tspan><tspan x="224" dy="9.4">ают синтез ДН</tspan><tspan x="224" dy="9.4">К</tspan></text><circle class="nc" cx="326" cy="277" r="28" stroke-width="3"/><text class="nn" x="326" y="285">20</text></g>
<g id="a-n29"><rect class="xb" x="155" y="244" width="89" height="55" rx="3"/><circle class="db" cx="244" cy="244" r="2"/><circle class="db" cx="155" cy="299" r="2"/><text class="bl" x="158" y="254.5">СКОРОСТЬ ВЫ<tspan x="158" dy="9.4">РАБОТКИ РЕЗ</tspan><tspan x="158" dy="9.4">ИСТЕНТНОСТ</tspan><tspan x="158" dy="9.4">И У МИКРОБО</tspan><tspan x="158" dy="9.4">В-Очень медле</tspan></text><circle class="nc" cx="272" cy="310" r="28" stroke-width="2"/><text class="nn" x="272" y="318">29</text></g>
<g id="a-n31"><rect class="xb" x="106" y="294" width="89" height="55" rx="3"/><circle class="db" cx="195" cy="294" r="2"/><circle class="db" cx="106" cy="349" r="2"/><text class="bl" x="109" y="304.5">ПРОИСХОЖДЕ<tspan x="109" dy="9.4">НИЕ-Синтетиче</tspan><tspan x="109" dy="9.4">ские</tspan></text><circle class="nc" cx="231" cy="348" r="28" stroke-width="4.5"/><text class="nn" x="231" y="356">31</text></g>
<g id="a-n30"><rect class="xr" x="75" y="349" width="89" height="55" rx="3"/><circle class="dr" cx="164" cy="349" r="2"/><circle class="dr" cx="75" cy="404" r="2"/><text class="bl" x="78" y="359.5">ПРОИСХОЖДЕ<tspan x="78" dy="9.4">НИЕ-Природны</tspan><tspan x="78" dy="9.4">е, полусинтетич</tspan><tspan x="78" dy="9.4">еские или синт</tspan><tspan x="78" dy="9.4">етические анал</tspan></text><circle class="ny" cx="206" cy="390" r="27" stroke-width="5"/><text class="nn" x="206" y="398">30</text></g>
<g id="a-n18"><rect class="xr" x="65" y="406" width="89" height="55" rx="3"/><circle class="dr" cx="154" cy="406" r="2"/><circle class="dr" cx="65" cy="461" r="2"/><text class="bl" x="68" y="416.5">ТИП ДЕЙСТВИ<tspan x="68" dy="9.4">Я Бактриостати</tspan><tspan x="68" dy="9.4">ческий, реже б</tspan><tspan x="68" dy="9.4">актерицидный</tspan></text><circle class="ny" cx="198" cy="433" r="28"/><text class="nn" x="198" y="441">18</text></g>
</g>

<!-- ================= WINDOW 2 ================= -->
<g id="window2">
<rect class="win" x="0" y="843" width="1211" height="822"/>
<rect x="0" y="843" width="1211" height="24" fill="url(#tbg)"/>
<circle cx="14" cy="856" r="6" fill="#E8552A"/><circle cx="15" cy="855" r="3" fill="#F7C531"/>
<text class="wtt" x="27" y="861" textLength="668" lengthAdjust="spacingAndGlyphs">4.3.2.2. Результаты кластерно-конструктивного анализа признаков признаков.  (C) Универсальная когнитивная аналитическая система "Эйдос-Х++"</text>
<rect x="1125" y="847" width="25" height="16" rx="2" fill="url(#btn)" stroke="#7F93B0"/><rect x="1133" y="856" width="9" height="2" fill="#445"/>
<rect x="1150" y="847" width="24" height="16" rx="2" fill="url(#btn)" stroke="#7F93B0"/><rect x="1157" y="851" width="10" height="8" fill="none" stroke="#445"/>
<rect x="1174" y="847" width="28" height="16" rx="2" fill="url(#cls)" stroke="#8E3A30"/><text x="1188" y="860" font-family="Liberation Sans,Arial,sans-serif" font-weight="bold" font-size="12" fill="#fff" text-anchor="middle">x</text>
<rect class="cli" x="7" y="867" width="1197" height="798"/>
<rect class="pan" x="23" y="876" width="1175" height="779"/>
<line class="sep" x1="23" y1="1592" x2="1198" y2="1592"/>
<text class="h1" x="609" y="902" textLength="783" lengthAdjust="spacingAndGlyphs">СЕМАНТИЧЕСКАЯ 2D СЕТЬ ПРИЗНАКОВ В МОДЕЛИ: "INF3"</text>
<text class="h2" x="80" y="923" textLength="1059" lengthAdjust="spacingAndGlyphs">КОНСТРУКТ ПРИЗНАКА: [30]-ПРОИСХОЖДЕНИЕ-Природные, полусинтетические или синтетические аналоги природных</text>
<text class="h2" x="266" y="941" textLength="689" lengthAdjust="spacingAndGlyphs">Приложение: АСК-анализ антибактериальных средств по их характеристикам</text>
<g id="b-stats">
<text class="st" x="909" y="1523" textLength="146" lengthAdjust="spacingAndGlyphs">Диапазон кодов признаков:</text><text class="st" x="1088" y="1523" textLength="22" lengthAdjust="spacingAndGlyphs">1-31</text>
<text class="st" x="909" y="1537.5" textLength="153" lengthAdjust="spacingAndGlyphs">Уровень сходства не менее:</text><text class="st" x="1088" y="1537.5" textLength="20" lengthAdjust="spacingAndGlyphs">20%</text>
<text class="st" x="909" y="1552" textLength="192" lengthAdjust="spacingAndGlyphs">Число отображаемых признаков:99</text>
<text class="st" x="909" y="1566.5" textLength="139" lengthAdjust="spacingAndGlyphs">Способ выборки классов:</text><text class="st" x="1088" y="1566.5" textLength="91" lengthAdjust="spacingAndGlyphs">MAX и MIN ур.сх.</text>
<text class="st" x="909" y="1581" textLength="170" lengthAdjust="spacingAndGlyphs">Дата и время создания формы:</text><text class="st" x="1088" y="1581" textLength="104" lengthAdjust="spacingAndGlyphs">28.06.2018-22:00:28</text>
</g>
<g id="b-legend">
<text class="lg" x="40" y="1610" textLength="548" lengthAdjust="spacingAndGlyphs">Сходство и различие между признаками по их признакам (градациям факторов, системе детерминации):</text>
<line x1="43" y1="1624" x2="179" y2="1624" stroke="#F21616" stroke-width="7" stroke-linecap="round"/>
<text class="lg" x="206" y="1629" textLength="854" lengthAdjust="spacingAndGlyphs">СХОДСТВО признаков отображается линиями связи КРАСНОГО цвета, толщина линии (приведенная в кружочке в центре линии) отражает степень сходства.</text>
<line x1="43" y1="1643" x2="179" y2="1643" stroke="#1515E4" stroke-width="7" stroke-linecap="round"/>
<text class="lg" x="206" y="1648" textLength="838" lengthAdjust="spacingAndGlyphs">РАЗЛИЧИЕ признаков отображается линиями связи СИНЕГО цвета, толщина линии  (приведенная в кружочке в центре линии) отражает степень различия.</text>
</g>
</g>

<g id="b-edges">
<g>
<line class="bt" x1="404" y1="1082" x2="681" y2="1475"/><line class="bt" x1="538" y1="1057" x2="681" y2="1475"/><line class="bt" x1="538" y1="1057" x2="816" y2="1450"/><line class="bt" x1="681" y1="1057" x2="538" y2="1475"/><line class="bt" x1="816" y1="1082" x2="538" y2="1475"/><line class="bt" x1="816" y1="1082" x2="404" y2="1450"/><line class="bt" x1="926" y1="1130" x2="538" y2="1475"/><line class="bt" x1="926" y1="1130" x2="681" y2="1475"/><line class="bt" x1="997" y1="1193" x2="816" y2="1450"/><line class="bt" x1="1022" y1="1266" x2="681" y2="1475"/><line class="bt" x1="681" y1="1057" x2="294" y2="1402"/><line class="bt" x1="816" y1="1082" x2="294" y2="1402"/><line class="bt" x1="404" y1="1082" x2="816" y2="1450"/>
<line class="rt" x1="198" y1="1266" x2="926" y2="1402"/><line class="rt" x1="223" y1="1338" x2="816" y2="1450"/><line class="rt" x1="223" y1="1193" x2="997" y2="1338"/><line class="rt" x1="198" y1="1266" x2="681" y2="1475"/>
</g>
<g>
<line class="r" stroke-width="7" x1="404" y1="1082" x2="538" y2="1057"/>
<line class="r" stroke-width="5" x1="294" y1="1130" x2="404" y2="1082"/>
<line class="r" stroke-width="4" x1="294" y1="1130" x2="681" y2="1057"/>
<line class="r" stroke-width="2.5" x1="294" y1="1130" x2="816" y2="1082"/>
<line class="r" stroke-width="3.5" x1="404" y1="1082" x2="816" y2="1082"/>
<line class="r" stroke-width="2.5" x1="294" y1="1130" x2="926" y2="1130"/>
<line class="r" stroke-width="3.5" x1="538" y1="1057" x2="997" y2="1193"/>
<line class="r" stroke-width="3.5" x1="404" y1="1082" x2="997" y2="1193"/>
<line class="r" stroke-width="2.5" x1="294" y1="1130" x2="997" y2="1193"/>
<line class="r" stroke-width="3.5" x1="404" y1="1082" x2="1022" y2="1266"/>
<line class="r" stroke-width="3.5" x1="538" y1="1057" x2="1022" y2="1266"/>
<line class="r" stroke-width="5" x1="681" y1="1057" x2="997" y2="1338"/>
<line class="r" stroke-width="5.5" x1="681" y1="1057" x2="926" y2="1402"/>
<line class="r" stroke-width="3.5" x1="926" y1="1130" x2="926" y2="1402"/>
<line class="r" stroke-width="2.5" x1="294" y1="1130" x2="997" y2="1338"/>
<line class="r" stroke-width="2.5" x1="294" y1="1130" x2="926" y2="1402"/>
<line class="r" stroke-width="2.5" x1="294" y1="1130" x2="1022" y2="1266"/>
<line class="r" stroke-width="4" x1="538" y1="1057" x2="816" y2="1082"/>
<line class="r" stroke-width="4" x1="681" y1="1057" x2="926" y2="1130"/>
<line class="r" stroke-width="3" x1="223" y1="1193" x2="198" y2="1266"/>
<line class="r" stroke-width="6" x1="198" y1="1266" x2="223" y2="1338"/>
<line class="r" stroke-width="2.5" x1="223" y1="1193" x2="294" y2="1402"/>
<line class="r" stroke-width="2.5" x1="223" y1="1193" x2="404" y2="1450"/>
<line class="r" stroke-width="2.2" x1="223" y1="1193" x2="538" y2="1475"/>
<line class="r" stroke-width="1.3" x1="223" y1="1193" x2="681" y2="1475"/>
<line class="r" stroke-width="1.3" x1="223" y1="1193" x2="816" y2="1450"/>
<line class="r" stroke-width="3.5" x1="198" y1="1266" x2="816" y2="1450"/>
<line class="r" stroke-width="7" x1="294" y1="1402" x2="404" y2="1450"/>
<line class="r" stroke-width="6" x1="404" y1="1450" x2="538" y2="1475"/>
<line class="r" stroke-width="2" x1="926" y1="1402" x2="816" y2="1450"/>
<line class="r" stroke-width="3.5" x1="997" y1="1338" x2="926" y2="1402"/>
<line class="r" stroke-width="2.5" x1="223" y1="1193" x2="223" y2="1338"/>
</g>
<g>
<line class="b" stroke-width="6" x1="223" y1="1193" x2="294" y2="1130"/>
<line class="b" stroke-width="4" x1="223" y1="1193" x2="681" y2="1057"/>
<line class="b" stroke-width="1.3" x1="223" y1="1193" x2="538" y2="1057"/>
<line class="b" stroke-width="2.5" x1="223" y1="1193" x2="816" y2="1082"/>
<line class="b" stroke-width="2" x1="198" y1="1266" x2="404" y2="1082"/>
<line class="b" stroke-width="1.3" x1="198" y1="1266" x2="538" y2="1057"/>
<line class="b" stroke-width="1.5" x1="198" y1="1266" x2="681" y2="1057"/>
<line class="b" stroke-width="2.5" x1="223" y1="1193" x2="926" y2="1130"/>
<line class="b" stroke-width="2" x1="223" y1="1338" x2="538" y2="1057"/>
<line class="b" stroke-width="1.3" x1="223" y1="1338" x2="681" y2="1057"/>
<line class="b" stroke-width="2" x1="223" y1="1338" x2="404" y2="1082"/>
<line class="b" stroke-width="2.5" x1="223" y1="1338" x2="294" y2="1130"/>
<line class="b" stroke-width="2" x1="294" y1="1402" x2="538" y2="1057"/>
<line class="b" stroke-width="1.3" x1="294" y1="1402" x2="681" y2="1057"/>
<line class="b" stroke-width="2" x1="294" y1="1402" x2="404" y2="1082"/>
<line class="b" stroke-width="2.5" x1="294" y1="1130" x2="294" y2="1402"/>
<line class="b" stroke-width="2" x1="404" y1="1082" x2="404" y2="1450"/>
<line class="b" stroke-width="2" x1="538" y1="1057" x2="404" y2="1450"/>
<line class="b" stroke-width="1.5" x1="404" y1="1082" x2="538" y2="1475"/>
<line class="b" stroke-width="1.3" x1="681" y1="1057" x2="404" y2="1450"/>
<line class="b" stroke-width="1.5" x1="538" y1="1057" x2="538" y2="1475"/>
<line class="b" stroke-width="2.5" x1="294" y1="1130" x2="404" y2="1450"/>
<line class="b" stroke-width="2.2" x1="294" y1="1130" x2="538" y2="1475"/>
<line class="b" stroke-width="1.3" x1="294" y1="1130" x2="681" y2="1475"/>
<line class="b" stroke-width="1.3" x1="294" y1="1130" x2="816" y2="1450"/>
<line class="b" stroke-width="2.5" x1="223" y1="1193" x2="926" y2="1402"/>
<line class="b" stroke-width="2.5" x1="223" y1="1193" x2="997" y2="1193"/>
<line class="b" stroke-width="2.5" x1="223" y1="1193" x2="1022" y2="1266"/>
<line class="b" stroke-width="2" x1="198" y1="1266" x2="997" y2="1338"/>
<line class="b" stroke-width="3" x1="198" y1="1266" x2="404" y2="1450"/>
<line class="b" stroke-width="2.5" x1="223" y1="1338" x2="294" y2="1402"/>
<line class="b" stroke-width="2.5" x1="198" y1="1266" x2="538" y2="1475"/>
<line class="b" stroke-width="1.5" x1="198" y1="1266" x2="681" y2="1475"/>
<line class="b" stroke-width="2" x1="223" y1="1338" x2="926" y2="1402"/>
<line class="b" stroke-width="2.2" x1="223" y1="1338" x2="538" y2="1475"/>
<line class="b" stroke-width="1.3" x1="223" y1="1338" x2="681" y2="1475"/>
<line class="b" stroke-width="1.3" x1="294" y1="1402" x2="816" y2="1450"/>
<line class="b" stroke-width="1.3" x1="294" y1="1402" x2="681" y2="1475"/>
<line class="b" stroke-width="2" x1="294" y1="1402" x2="926" y2="1402"/>
<line class="b" stroke-width="2" x1="404" y1="1450" x2="926" y2="1402"/>
<line class="b" stroke-width="1.3" x1="404" y1="1450" x2="816" y2="1450"/>
<line class="b" stroke-width="1.5" x1="538" y1="1475" x2="816" y2="1450"/>
</g>
<g>
<g class="by" transform="translate(471 1069.5)"><circle r="11"/><text y="3.5">100</text></g>
<g class="by" transform="translate(349 1106)"><circle r="10"/><text y="3.5">72</text></g>
<g class="by" transform="translate(487.5 1093.5)"><circle r="10"/><text y="3.5">57</text></g>
<g class="by" transform="translate(555 1106)"><circle r="10"/><text y="3.5">39</text></g>
<g class="by" transform="translate(610 1082)"><circle r="10"/><text y="3.5">54</text></g>
<g class="by" transform="translate(610 1130)"><circle r="10"/><text y="3.5">39</text></g>
<g class="by" transform="translate(767.5 1125)"><circle r="10"/><text y="3.5">54</text></g>
<g class="by" transform="translate(700.5 1137.5)"><circle r="10"/><text y="3.5">54</text></g>
<g class="by" transform="translate(645.5 1161.5)"><circle r="10"/><text y="3.5">39</text></g>
<g class="by" transform="translate(713 1174)"><circle r="10"/><text y="3.5">54</text></g>
<g class="by" transform="translate(780 1161.5)"><circle r="10"/><text y="3.5">54</text></g>
<g class="by" transform="translate(839 1197.5)"><circle r="10"/><text y="3.5">69</text></g>
<g class="by" transform="translate(803.5 1229.5)"><circle r="10"/><text y="3.5">79</text></g>
<g class="by" transform="translate(926 1266)"><circle r="10"/><text y="3.5">54</text></g>
<g class="by" transform="translate(645.5 1234)"><circle r="10"/><text y="3.5">39</text></g>
<g class="by" transform="translate(610 1266)"><circle r="10"/><text y="3.5">39</text></g>
<g class="by" transform="translate(658 1198)"><circle r="10"/><text y="3.5">39</text></g>
<g class="by" transform="translate(210.5 1229.5)"><circle r="10"/><text y="3.5">44</text></g>
<g class="by" transform="translate(210.5 1302)"><circle r="10"/><text y="3.5">88</text></g>
<g class="by" transform="translate(258.5 1297.5)"><circle r="10"/><text y="3.5">36</text></g>
<g class="by" transform="translate(313.5 1321.5)"><circle r="10"/><text y="3.5">38</text></g>
<g class="by" transform="translate(380.5 1334)"><circle r="10"/><text y="3.5">33</text></g>
<g class="by" transform="translate(452 1334)"><circle r="10"/><text y="3.5">22</text></g>
<g class="by" transform="translate(519.5 1321.5)"><circle r="10"/><text y="3.5">22</text></g>
<g class="by" transform="translate(507 1358)"><circle r="10"/><text y="3.5">50</text></g>
<g class="by" transform="translate(349 1426)"><circle r="11"/><text y="3.5">100</text></g>
<g class="by" transform="translate(471 1462.5)"><circle r="10"/><text y="3.5">86</text></g>
<g class="by" transform="translate(871 1426)"><circle r="10"/><text y="3.5">32</text></g>
<g class="by" transform="translate(961.5 1370)"><circle r="10"/><text y="3.5">54</text></g>
<g class="bc" transform="translate(258.5 1161.5)"><circle r="11"/><text y="3.5">-100</text></g>
<g class="bc" transform="translate(452 1125)"><circle r="10"/><text y="3.5">-57</text></g>
<g class="bc" transform="translate(380.5 1125)"><circle r="10"/><text y="3.5">-22</text></g>
<g class="bc" transform="translate(519.5 1137.5)"><circle r="10"/><text y="3.5">-39</text></g>
<g class="bc" transform="translate(301 1174)"><circle r="10"/><text y="3.5">-32</text></g>
<g class="bc" transform="translate(368 1161.5)"><circle r="10"/><text y="3.5">-22</text></g>
<g class="bc" transform="translate(439.5 1161.5)"><circle r="10"/><text y="3.5">-25</text></g>
<g class="bc" transform="translate(574.5 1161.5)"><circle r="10"/><text y="3.5">-39</text></g>
<g class="bc" transform="translate(380.5 1197.5)"><circle r="10"/><text y="3.5">-28</text></g>
<g class="bc" transform="translate(452 1197.5)"><circle r="10"/><text y="3.5">-22</text></g>
<g class="bc" transform="translate(313.5 1210)"><circle r="10"/><text y="3.5">-28</text></g>
<g class="bc" transform="translate(258.5 1234)"><circle r="10"/><text y="3.5">-38</text></g>
<g class="bc" transform="translate(416 1229.5)"><circle r="10"/><text y="3.5">-28</text></g>
<g class="bc" transform="translate(487.5 1229.5)"><circle r="10"/><text y="3.5">-22</text></g>
<g class="bc" transform="translate(349 1242)"><circle r="10"/><text y="3.5">-28</text></g>
<g class="bc" transform="translate(294 1266)"><circle r="10"/><text y="3.5">-38</text></g>
<g class="bc" transform="translate(404 1266)"><circle r="10"/><text y="3.5">-28</text></g>
<g class="bc" transform="translate(471 1253.5)"><circle r="10"/><text y="3.5">-28</text></g>
<g class="bc" transform="translate(471 1278.5)"><circle r="10"/><text y="3.5">-24</text></g>
<g class="bc" transform="translate(542.5 1253.5)"><circle r="10"/><text y="3.5">-22</text></g>
<g class="bc" transform="translate(538 1275)"><circle r="10"/><text y="3.5">-24</text></g>
<g class="bc" transform="translate(349 1290)"><circle r="10"/><text y="3.5">-38</text></g>
<g class="bc" transform="translate(416 1302.5)"><circle r="10"/><text y="3.5">-33</text></g>
<g class="bc" transform="translate(487.5 1302.5)"><circle r="10"/><text y="3.5">-22</text></g>
<g class="bc" transform="translate(555 1290)"><circle r="10"/><text y="3.5">-22</text></g>
<g class="bc" transform="translate(574.5 1297.5)"><circle r="10"/><text y="3.5">-39</text></g>
<g class="bc" transform="translate(610 1193)"><circle r="10"/><text y="3.5">-39</text></g>
<g class="bc" transform="translate(622.5 1229.5)"><circle r="10"/><text y="3.5">-39</text></g>
<g class="bc" transform="translate(301 1358)"><circle r="10"/><text y="3.5">-44</text></g>
<g class="bc" transform="translate(258.5 1370)"><circle r="10"/><text y="3.5">-38</text></g>
<g class="bc" transform="translate(368 1370.5)"><circle r="10"/><text y="3.5">-38</text></g>
<g class="bc" transform="translate(439.5 1370.5)"><circle r="10"/><text y="3.5">-25</text></g>
<g class="bc" transform="translate(574.5 1370)"><circle r="10"/><text y="3.5">-28</text></g>
<g class="bc" transform="translate(380.5 1406.5)"><circle r="10"/><text y="3.5">-33</text></g>
<g class="bc" transform="translate(452 1406.5)"><circle r="10"/><text y="3.5">-22</text></g>
<g class="bc" transform="translate(555 1426)"><circle r="10"/><text y="3.5">-22</text></g>
<g class="bc" transform="translate(487.5 1438.5)"><circle r="10"/><text y="3.5">-22</text></g>
<g class="bc" transform="translate(610 1402)"><circle r="10"/><text y="3.5">-28</text></g>
<g class="bc" transform="translate(665 1426)"><circle r="10"/><text y="3.5">-28</text></g>
<g class="bc" transform="translate(610 1450)"><circle r="10"/><text y="3.5">-22</text></g>
<g class="bc" transform="translate(731 1466)"><circle r="10"/><text y="3.5">-24</text></g>
</g>
</g>

<g id="b-nodes">
<g id="b-n19"><rect class="xr" x="96" y="1335" width="89" height="55" rx="3"/><circle class="dr" cx="185" cy="1335" r="2"/><circle class="dr" cx="96" cy="1390" r="2"/><text class="bl" x="99" y="1345.5">МЕХАНИЗМ ДЕ<tspan x="99" dy="9.4">ЙСТВИЯ-Наруш</tspan><tspan x="99" dy="9.4">ают синтез бел</tspan><tspan x="99" dy="9.4">ка на уровне ри</tspan><tspan x="99" dy="9.4">босом</tspan></text><circle class="ny" cx="223" cy="1338" r="28"/><text class="nn" x="223" y="1346">19</text></g>
<g id="b-n21"><rect class="xr" x="183" y="1421" width="89" height="55" rx="3"/><circle class="dr" cx="272" cy="1421" r="2"/><circle class="dr" cx="183" cy="1476" r="2"/><text class="bl" x="186" y="1431.5">МЕХАНИЗМ ДЕ<tspan x="186" dy="9.4">ЙСТВИЯ-Наруш</tspan><tspan x="186" dy="9.4">ают синтез кле</tspan><tspan x="186" dy="9.4">точной стенки в</tspan><tspan x="186" dy="9.4">о время делени</tspan></text><circle class="ny" cx="294" cy="1402" r="28"/><text class="nn" x="294" y="1410">21</text></g>
<g id="b-n26"><rect class="xr" x="315" y="1484" width="89" height="55" rx="3"/><circle class="dr" cx="404" cy="1484" r="2"/><circle class="dr" cx="315" cy="1539" r="2"/><text class="bl" x="318" y="1494.5">СКОРОСТЬ ВЫ<tspan x="318" dy="9.4">РАБОТКИ РЕЗ</tspan><tspan x="318" dy="9.4">ИСТЕНТНОСТ</tspan><tspan x="318" dy="9.4">И У МИКРОБО</tspan><tspan x="318" dy="9.4">В-Медленно (к</tspan></text><circle class="ny" cx="404" cy="1450" r="28"/><text class="nn" x="404" y="1458">26</text></g>
<g id="b-n12"><rect class="xr" x="478" y="1518" width="89" height="55" rx="3"/><circle class="dr" cx="567" cy="1518" r="2"/><circle class="dr" cx="478" cy="1573" r="2"/><text class="bl" x="481" y="1528.5">ГРУППА-Содер<tspan x="481" dy="9.4">жащие бета-ла</tspan><tspan x="481" dy="9.4">ктамное кольц</tspan><tspan x="481" dy="9.4">о</tspan></text><circle class="ny" cx="538" cy="1475" r="28"/><text class="nn" x="538" y="1483">12</text></g>
<g id="b-n23"><rect class="xr" x="652" y="1518" width="89" height="55" rx="3"/><circle class="dr" cx="741" cy="1518" r="2"/><circle class="dr" cx="652" cy="1573" r="2"/><text class="bl" x="655" y="1528.5">МЕХАНИЗМ ДЕ<tspan x="655" dy="9.4">ЙСТВИЯ-Наруш</tspan><tspan x="655" dy="9.4">ают функцию к</tspan><tspan x="655" dy="9.4">леточных мемб</tspan><tspan x="655" dy="9.4">ран</tspan></text><circle class="ny" cx="681" cy="1475" r="28"/><text class="nn" x="681" y="1483">23</text></g>
<g id="b-n24"><rect class="xr" x="815" y="1484" width="89" height="55" rx="3"/><circle class="dr" cx="904" cy="1484" r="2"/><circle class="dr" cx="815" cy="1539" r="2"/><text class="bl" x="818" y="1494.5">СКОРОСТЬ ВЫ<tspan x="818" dy="9.4">РАБОТКИ РЕЗ</tspan><tspan x="818" dy="9.4">ИСТЕНТНОСТ</tspan><tspan x="818" dy="9.4">И У МИКРОБО</tspan><tspan x="818" dy="9.4">В-Быстро</tspan></text><circle class="ny" cx="816" cy="1450" r="28"/><text class="nn" x="816" y="1458">24</text></g>
<g id="b-n22"><rect class="xb" x="949" y="1421" width="89" height="55" rx="3"/><circle class="db" cx="1038" cy="1421" r="2"/><circle class="db" cx="949" cy="1476" r="2"/><text class="bl" x="952" y="1431.5">МЕХАНИЗМ ДЕ<tspan x="952" dy="9.4">ЙСТВИЯ-Наруш</tspan><tspan x="952" dy="9.4">ают синтез РН</tspan><tspan x="952" dy="9.4">К</tspan></text><circle class="nc" cx="926" cy="1402" r="28"/><text class="nn" x="926" y="1410">22</text></g>
<g id="b-n3"><rect class="xb" x="1035" y="1336" width="89" height="55" rx="3"/><circle class="db" cx="1124" cy="1336" r="2"/><circle class="db" cx="1035" cy="1391" r="2"/><text class="bl" x="1038" y="1346.5">ГРУППА-Диам<tspan x="1038" dy="9.4">инопиримидин</tspan><tspan x="1038" dy="9.4">ы</tspan></text><circle class="nc" cx="997" cy="1338" r="28"/><text class="nn" x="997" y="1346">3</text></g>
<g id="b-n5"><rect class="xb" x="1066" y="1240" width="89" height="55" rx="3"/><circle class="db" cx="1155" cy="1240" r="2"/><circle class="db" cx="1066" cy="1295" r="2"/><text class="bl" x="1069" y="1250.5">ГРУППА-Нитро<tspan x="1069" dy="9.4">имидазолы</tspan></text><circle class="nc" cx="1022" cy="1266" r="28"/><text class="nn" x="1022" y="1274">5</text></g>
<g id="b-n6"><rect class="xb" x="1035" y="1142" width="89" height="55" rx="3"/><circle class="db" cx="1124" cy="1142" r="2"/><circle class="db" cx="1035" cy="1197" r="2"/><text class="bl" x="1038" y="1152.5">ГРУППА-Нитро<tspan x="1038" dy="9.4">фураны</tspan></text><circle class="nc" cx="997" cy="1193" r="28"/><text class="nn" x="997" y="1201">6</text></g>
<g id="b-n14"><rect class="xb" x="949" y="1057" width="89" height="55" rx="3"/><circle class="db" cx="1038" cy="1057" r="2"/><circle class="db" cx="949" cy="1112" r="2"/><text class="bl" x="952" y="1067.5">ГРУППА-Сульф<tspan x="952" dy="9.4">аниламиды</tspan></text><circle class="nc" cx="926" cy="1130" r="28"/><text class="nn" x="926" y="1138">14</text></g>
<g id="b-n15"><rect class="xb" x="815" y="993" width="89" height="55" rx="3"/><circle class="db" cx="904" cy="993" r="2"/><circle class="db" cx="815" cy="1048" r="2"/><text class="bl" x="818" y="1003.5">ГРУППА-Фторх<tspan x="818" dy="9.4">инолоны</tspan></text><circle class="nc" cx="816" cy="1082" r="28"/><text class="nn" x="816" y="1090">15</text></g>
<g id="b-n16"><rect class="xb" x="652" y="959" width="89" height="55" rx="3"/><circle class="db" cx="741" cy="959" r="2"/><circle class="db" cx="652" cy="1014" r="2"/><text class="bl" x="655" y="969.5">ТИП ДЕЙСТВИ<tspan x="655" dy="9.4">Я-Бактериостат</tspan><tspan x="655" dy="9.4">ический</tspan></text><circle class="nc" cx="681" cy="1057" r="28" stroke-width="2.5"/><text class="nn" x="681" y="1065">16</text></g>
<g id="b-n20"><rect class="xb" x="478" y="959" width="89" height="55" rx="3"/><circle class="db" cx="567" cy="959" r="2"/><circle class="db" cx="478" cy="1014" r="2"/><text class="bl" x="481" y="969.5">МЕХАНИЗМ ДЕ<tspan x="481" dy="9.4">ЙСТВИЯ-Наруш</tspan><tspan x="481" dy="9.4">ают синтез ДН</tspan><tspan x="481" dy="9.4">К</tspan></text><circle class="nc" cx="538" cy="1057" r="28" stroke-width="3"/><text class="nn" x="538" y="1065">20</text></g>
<g id="b-n29"><rect class="xb" x="316" y="993" width="89" height="55" rx="3"/><circle class="db" cx="405" cy="993" r="2"/><circle class="db" cx="316" cy="1048" r="2"/><text class="bl" x="319" y="1003.5">СКОРОСТЬ ВЫ<tspan x="319" dy="9.4">РАБОТКИ РЕЗ</tspan><tspan x="319" dy="9.4">ИСТЕНТНОСТ</tspan><tspan x="319" dy="9.4">И У МИКРОБО</tspan><tspan x="319" dy="9.4">В-Очень медле</tspan></text><circle class="nc" cx="404" cy="1082" r="28" stroke-width="3.5"/><text class="nn" x="404" y="1090">29</text></g>
<g id="b-n31"><rect class="xb" x="182" y="1057" width="89" height="55" rx="3"/><circle class="db" cx="271" cy="1057" r="2"/><circle class="db" cx="182" cy="1112" r="2"/><text class="bl" x="185" y="1067.5">ПРОИСХОЖДЕ<tspan x="185" dy="9.4">НИЕ-Синтетиче</tspan><tspan x="185" dy="9.4">ские</tspan></text><circle class="nc" cx="294" cy="1130" r="28" stroke-width="4.5"/><text class="nn" x="294" y="1138">31</text></g>
<g id="b-n30"><rect class="xr" x="96" y="1142" width="89" height="55" rx="3"/><circle class="dr" cx="185" cy="1142" r="2"/><circle class="dr" cx="96" cy="1197" r="2"/><text class="bl" x="99" y="1152.5">ПРОИСХОЖДЕ<tspan x="99" dy="9.4">НИЕ-Природны</tspan><tspan x="99" dy="9.4">е, полусинтетич</tspan><tspan x="99" dy="9.4">еские или синт</tspan><tspan x="99" dy="9.4">етические анал</tspan></text><circle class="ny" cx="223" cy="1193" r="27" stroke-width="5"/><text class="nn" x="223" y="1201">30</text></g>
<g id="b-n18"><rect class="xr" x="66" y="1239" width="89" height="55" rx="3"/><circle class="dr" cx="155" cy="1239" r="2"/><circle class="dr" cx="66" cy="1294" r="2"/><text class="bl" x="69" y="1249.5">ТИП ДЕЙСТВИ<tspan x="69" dy="9.4">Я Бактриостати</tspan><tspan x="69" dy="9.4">ческий, реже б</tspan><tspan x="69" dy="9.4">актерицидный</tspan></text><circle class="ny" cx="198" cy="1266" r="28" stroke-width="2.5"/><text class="nn" x="198" y="1274">18</text></g>
</g>
</svg>
